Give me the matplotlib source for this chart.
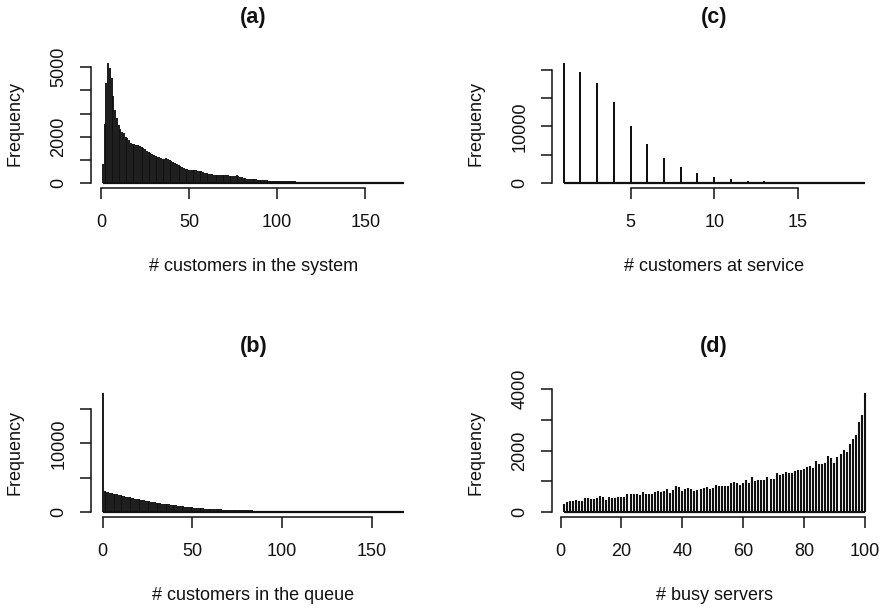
import matplotlib
matplotlib.use("Agg")
import matplotlib.pyplot as plt
import numpy as np

plt.rcParams["font.family"] = ["Liberation Sans", "DejaVu Sans"]

# (a) number of customers in the system: counts for 1..172
system_counts = [
    800, 2550, 4300, 5170, 4950, 4550, 3750, 3150, 2800, 2500,
    2350, 2220, 2140, 2000, 1920, 1850, 1740, 1700, 1670, 1640,
    1630, 1600, 1560, 1500, 1450, 1390, 1350, 1300, 1250, 1200,
    1170, 1130, 1100, 1060, 1030, 1040, 1060, 1010, 985, 930,
    880, 840, 800, 750, 710, 670, 625, 595, 580, 565,
    550, 545, 540, 535, 530, 520, 500, 470, 440, 410,
    385, 375, 365, 360, 355, 350, 345, 340, 345, 350,
    335, 320, 310, 300, 305, 315, 320, 300, 270, 235,
    210, 190, 180, 170, 160, 155, 150, 145, 138, 130,
    125, 118, 112, 106, 100, 96, 92, 89, 86, 84,
    80, 76, 73, 70, 68, 65, 63, 61, 60, 58,
    56, 55, 53, 52, 50, 49, 48, 47, 46, 45,
    47, 46, 48, 45, 43, 42, 44, 41, 41, 40,
    40, 40, 39, 41, 39, 38, 38, 38, 37, 37,
    37, 36, 38, 36, 35, 35, 35, 34, 34, 34,
    33, 33, 32, 32, 31, 31, 30, 30, 29, 28,
    27, 26, 25, 24, 23, 22, 21, 20, 18, 16,
    14, 12,
]
system_values = list(range(1, len(system_counts) + 1))

# (b) number of customers in the queue: counts for 0..168
queue_counts = [
    17380,
    3060, 2980, 2900, 2810, 2730, 2670, 2610, 2550, 2490, 2430,
    2370, 2310, 2250, 2195, 2140, 2080, 2020, 1960, 1900, 1845,
    1795, 1745, 1695, 1650, 1600, 1550, 1500, 1455, 1410, 1360,
    1320, 1280, 1240, 1200, 1165, 1135, 1105, 1075, 1045, 1020,
    980, 940, 900, 860, 825, 795, 765, 735, 705, 680,
    650, 620, 595, 565, 535, 515, 495, 475, 455, 440,
    425, 410, 400, 390, 380, 370, 360, 352, 345, 340,
    330, 320, 310, 300, 290, 280, 270, 260, 250, 240,
    235, 230, 225, 220, 215, 210, 205, 200, 195, 190,
    180, 170, 160, 150, 140, 130, 120, 110, 100, 95,
    90, 85, 80, 75, 70, 66, 62, 58, 55, 52,
    50, 48, 46, 44, 42, 40, 38, 36, 35, 34,
    33, 32, 31, 30, 29, 28, 27, 26, 25, 24,
    23, 22, 21, 20, 19, 18, 17, 16, 15, 14,
    14, 13, 13, 12, 12, 11, 11, 10, 10, 9,
    9, 8, 8, 8, 7, 7, 7, 6, 6, 6,
    5, 5, 5, 4, 4, 4, 3, 3,
]
queue_values = list(range(0, len(queue_counts)))

# (c) number of customers at service: counts for 1..19
service_counts = [21180, 19700, 17630, 14380, 10120, 6800, 4380, 2720, 1720,
                  1010, 590, 350, 240, 120, 60, 30, 15, 8, 4]
service_values = list(range(1, len(service_counts) + 1))

# (d) number of busy servers: counts for 1..100
busy_counts = [
    260, 340, 350, 360, 400, 370, 360, 445, 445, 425,
    425, 445, 530, 490, 380, 480, 470, 445, 480, 480,
    490, 590, 590, 575, 575, 565, 640, 600, 575, 600,
    640, 675, 640, 675, 740, 620, 720, 850, 805, 675,
    740, 770, 740, 675, 720, 760, 780, 805, 760, 795,
    890, 835, 860, 835, 860, 935, 965, 955, 870, 945,
    1030, 935, 1130, 1000, 1055, 1045, 1045, 1130, 1085, 1085,
    1270, 1215, 1250, 1295, 1270, 1270, 1335, 1360, 1360, 1390,
    1470, 1510, 1435, 1660, 1555, 1565, 1585, 1840, 1770, 1610,
    1790, 1900, 2020, 1945, 2230, 2390, 2500, 2945, 3165, 3890,
]
busy_values = list(range(1, len(busy_counts) + 1))

panels = [
    dict(title="(a)", xlabel="# customers in the system", x=system_values, y=system_counts,
         xticks=[0, 50, 100, 150], yticks=[0, 1000, 2000, 3000, 4000, 5000],
         ylabels=["0", "", "2000", "", "", "5000"], pos=(90.7, 58.6), lw=1.35),
    dict(title="(c)", xlabel="# customers at service", x=service_values, y=service_counts,
         xticks=[5, 10, 15], yticks=[0, 5000, 10000, 15000, 20000],
         ylabels=["0", "", "10000", "", ""], pos=(551.5, 58.6), lw=1.45),
    dict(title="(b)", xlabel="# customers in the queue", x=queue_values, y=queue_counts,
         xticks=[0, 50, 100, 150], yticks=[0, 5000, 10000, 15000],
         ylabels=["0", "", "10000", ""], pos=(90.7, 387.8), lw=1.35),
    dict(title="(d)", xlabel="# busy servers", x=busy_values, y=busy_counts,
         xticks=[0, 20, 40, 60, 80, 100], yticks=[0, 1000, 2000, 3000, 4000],
         ylabels=["0", "", "2000", "", "4000"], pos=(551.5, 387.8), lw=1.5),
]

W, H = 884, 608
fig = plt.figure(figsize=(W / 100, H / 100), dpi=100)
ax_w, ax_h = 325.4, 129.0
ink = "#111111"
fs = 13

for p in panels:
    left, top = p["pos"]
    ax = fig.add_axes([left / W, 1 - (top + ax_h) / H, ax_w / W, ax_h / H])
    x = np.asarray(p["x"])
    y = np.asarray(p["y"])
    # histogram-like vertical lines with a baseline
    ax.vlines(x, 0, y, colors=ink, linewidth=p["lw"], capstyle="butt")
    ax.hlines(0, x.min(), x.max(), colors=ink, linewidth=1.6)

    xr = x.max() - x.min()
    ax.set_xlim(x.min() - 0.04 * xr, x.max() + 0.04 * xr)
    ax.set_ylim(-0.04 * y.max(), 1.04 * y.max())

    for s in ("top", "right"):
        ax.spines[s].set_visible(False)
    for s in ("left", "bottom"):
        ax.spines[s].set_linewidth(1.1)
        ax.spines[s].set_color(ink)
    ax.spines["bottom"].set_bounds(p["xticks"][0], p["xticks"][-1])
    ax.spines["left"].set_bounds(p["yticks"][0], p["yticks"][-1])

    ax.set_xticks(p["xticks"])
    ax.set_xticklabels([str(t) for t in p["xticks"]])
    ax.set_yticks(p["yticks"])
    ax.set_yticklabels(p["ylabels"])
    ax.tick_params(axis="both", direction="out", length=7.7, width=1.1,
                   color=ink, labelsize=fs, labelcolor="#111111")
    ax.tick_params(axis="x", pad=11.5)
    ax.tick_params(axis="y", pad=9, labelrotation=90)
    for lab in ax.get_yticklabels():
        lab.set_va("center")

    ax.set_xlabel(p["xlabel"], fontsize=fs, color="#111111")
    ax.xaxis.set_label_coords(0.5, -79 / ax_h)
    ax.xaxis.label.set_va("center")
    ax.set_ylabel("Frequency", fontsize=fs, color="#111111")
    ax.yaxis.set_label_coords(-76 / ax_w, 0.5)
    ax.yaxis.label.set_va("center")

    ax.set_title(p["title"], fontsize=15.6, fontweight="bold", color="#111111",
                 y=1 + 41 / ax_h, pad=0, va="center")

fig.savefig("out.png", dpi=100, facecolor="white")
